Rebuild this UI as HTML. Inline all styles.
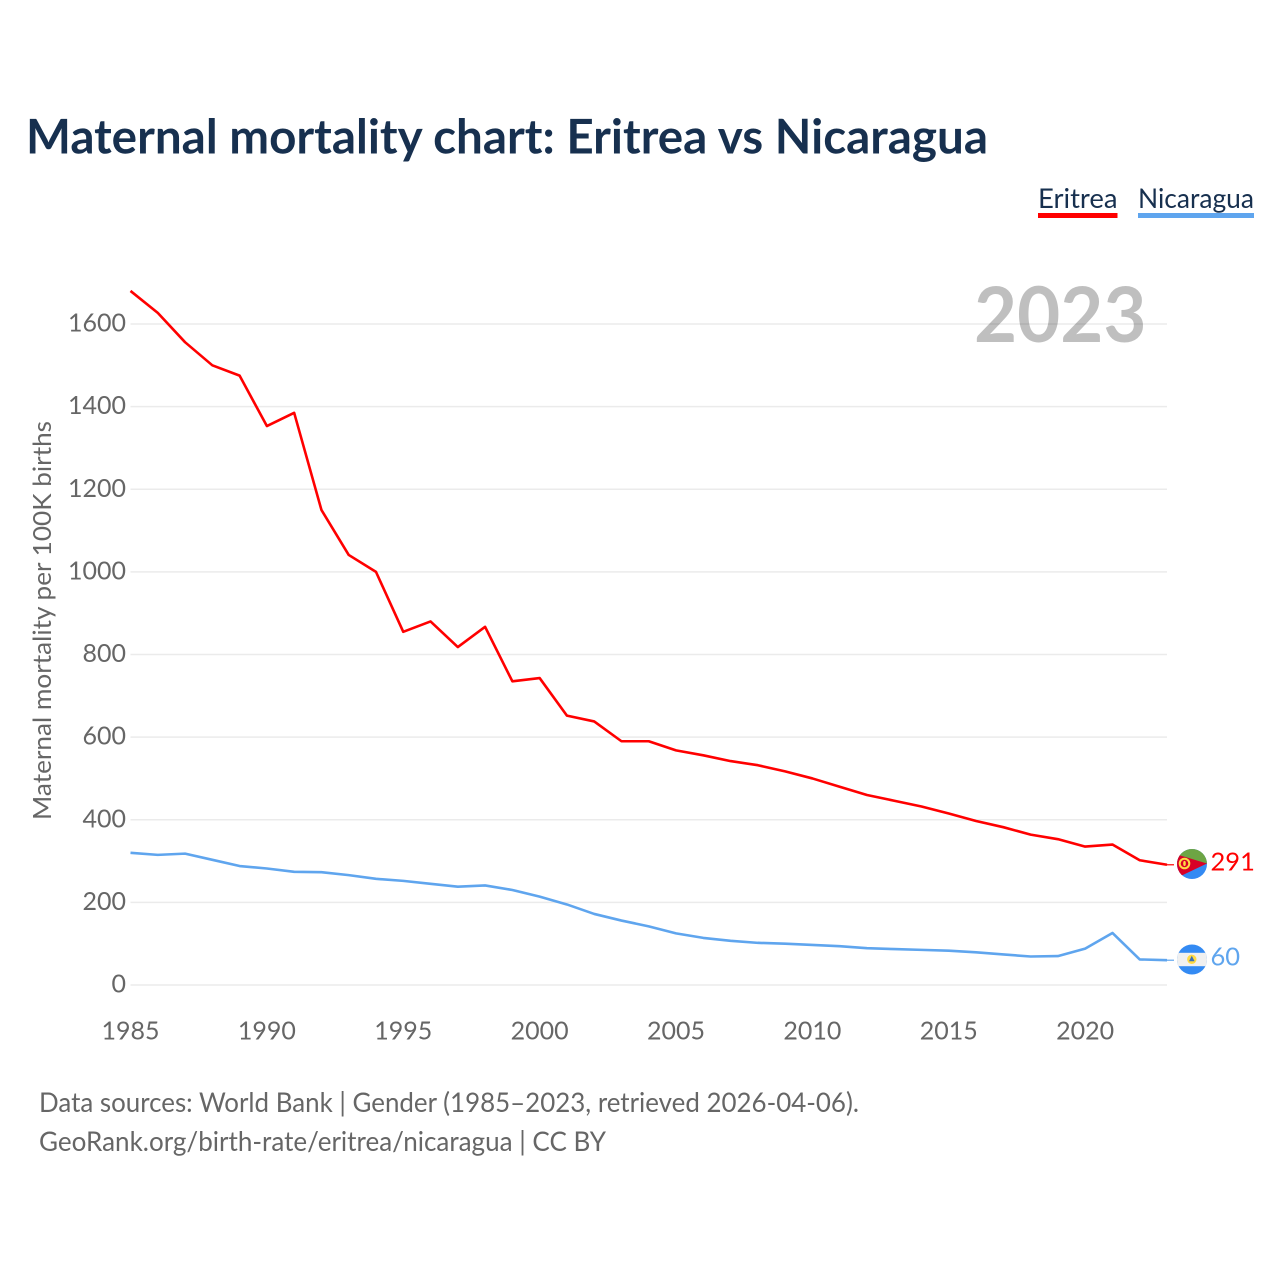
<!DOCTYPE html>
<html lang="en">
<head>
<meta charset="utf-8">
<title>Maternal mortality chart: Eritrea vs Nicaragua</title>
<style>
html,body{margin:0;padding:0;background:#fff;}
body{width:1280px;height:1280px;overflow:hidden;}
svg{display:block;font-family:"Lato","Carlito","Liberation Sans",sans-serif;}
</style>
</head>
<body>
<svg id="chart" xmlns="http://www.w3.org/2000/svg" width="1280" height="1280" viewBox="0 0 1280 1280">
<rect width="1280" height="1280" fill="#ffffff"/>
<text x="26" y="153.5" font-size="48" font-weight="700" fill="#17304f" textLength="962" lengthAdjust="spacingAndGlyphs">Maternal mortality chart: Eritrea vs Nicaragua</text>
<g>
<g>
<text x="1038" y="208" font-size="27" fill="#17304f" textLength="79.5" lengthAdjust="spacingAndGlyphs">Eritrea</text>
<rect x="1038" y="213" width="79.5" height="5" fill="#ff0000"/>
</g>
<g>
<text x="1138" y="208" font-size="27" fill="#17304f" textLength="116" lengthAdjust="spacingAndGlyphs">Nicaragua</text>
<rect x="1138" y="213" width="116" height="5" fill="#5fa5ee"/>
</g>
</g>
<g id="grid"></g>
<text x="1146.5" y="342" font-size="76.5" font-weight="700" fill="#000000" fill-opacity="0.25" text-anchor="end" textLength="172.5" lengthAdjust="spacingAndGlyphs">2023</text>
<g id="yticks"></g>
<g id="xticks"></g>
<text transform="translate(51,620.5) rotate(-90)" font-size="25" fill="#666666" text-anchor="middle" textLength="399" lengthAdjust="spacingAndGlyphs">Maternal mortality per 100K births</text>
<g id="series"></g>
<g id="ends"></g>

<defs>
<clipPath id="flag-clip-er"><circle cx="1192" cy="864" r="15"/></clipPath>
<clipPath id="flag-clip-ni"><circle cx="1192" cy="959.5" r="15"/></clipPath>
</defs>
<g clip-path="url(#flag-clip-er)">
<rect x="1177" y="849" width="30" height="30" fill="#338af3"/>
<polygon points="1175,849 1207,849 1207,863.5 1175,863.5" fill="#6da544"/>
<polygon points="1207,863.5 1170,852.4 1170,881" fill="#d80027"/>
<circle cx="1184.5" cy="863.5" r="4.8" fill="none" stroke="#ffda44" stroke-width="2"/>
<ellipse cx="1184.5" cy="863.5" rx="1.3" ry="2.6" fill="#ffda44"/>
</g>
<g clip-path="url(#flag-clip-ni)">
<rect x="1177" y="944" width="30" height="31" fill="#338af3"/>
<rect x="1177" y="952.8" width="30" height="13.4" fill="#f0f0f0"/>
<circle cx="1191.8" cy="959.3" r="4.7" fill="#ffda44"/>
<polygon points="1191.8,955.8 1194.6,961.3 1189,961.3" fill="#3a6fb5"/>
</g>

<g>
<text x="39" y="1112" font-size="27" fill="#666666" textLength="820" lengthAdjust="spacingAndGlyphs">Data sources: World Bank | Gender (1985–2023, retrieved 2026-04-06).</text>
<text x="39" y="1151" font-size="27" fill="#666666" textLength="567" lengthAdjust="spacingAndGlyphs">GeoRank.org/birth-rate/eritrea/nicaragua | CC BY</text>
</g>
</svg>
<script>
const years = [1985,1986,1987,1988,1989,1990,1991,1992,1993,1994,1995,1996,1997,1998,1999,2000,2001,2002,2003,2004,2005,2006,2007,2008,2009,2010,2011,2012,2013,2014,2015,2016,2017,2018,2019,2020,2021,2022,2023];
const eritrea = [1680,1627,1556,1500,1475,1353,1385,1150,1041,1000,855,880,818,867,735,743,652,638,590,590,568,556,542,532,517,500,480,460,446,432,415,397,382,364,353,335,340,302,291];
const nicaragua = [320,315,318,303,288,282,274,273,266,257,252,245,238,241,230,214,195,172,156,142,125,114,107,102,100,97,94,89,87,85,83,79,74,69,70,88,126,62,60];
const yTickValues = [0,200,400,600,800,1000,1200,1400,1600];
const xTickValues = [1985,1990,1995,2000,2005,2010,2015,2020];

const NS = 'http://www.w3.org/2000/svg';
const xScale = function (year) { return 130.5 + (year - 1985) * (1167 - 130.5) / 38; };
const yScale = function (value) { return 985 - value * (985 - 324) / 1600; };

function make(tag, parent, attrs, text) {
  const el = document.createElementNS(NS, tag);
  Object.keys(attrs).forEach(function (k) { el.setAttribute(k, attrs[k]); });
  if (text !== undefined) { el.textContent = text; }
  parent.appendChild(el);
  return el;
}

const grid = document.getElementById('grid');
const yticks = document.getElementById('yticks');
const xticks = document.getElementById('xticks');
const seriesGroup = document.getElementById('series');
const ends = document.getElementById('ends');

yTickValues.forEach(function (v) {
  const line = make('line', grid, {x1: 130.5, x2: 1167, y1: yScale(v), y2: yScale(v), stroke: '#ebebeb', 'stroke-width': 1.5});
  
  
  const label = make('text', yticks, {x: 126, y: yScale(v) + 7.5, 'font-size': 25, fill: '#666666', 'text-anchor': 'end'}, String(v));
  
  
});

xTickValues.forEach(function (y) {
  const label = make('text', xticks, {x: xScale(y), y: 1039.5, 'font-size': 25, fill: '#666666', 'text-anchor': 'middle'}, String(y));
  
  
});

function drawSeries(values, color, key, labelY) {
  const pts = values.map(function (v, i) { return xScale(years[i]).toFixed(2) + ',' + yScale(v).toFixed(2); }).join(' ');
  const line = make('polyline', seriesGroup, {points: pts, fill: 'none', stroke: color, 'stroke-width': 2.6, 'stroke-linejoin': 'round'});
  
  
  const last = values[values.length - 1];
  const lastX = xScale(years[years.length - 1]);
  const lastY = yScale(last);
  const connector = make('line', ends, {x1: lastX, y1: lastY, x2: 1174, y2: lastY, stroke: color, 'stroke-width': 1.2});
  
  
  const label = make('text', ends, {x: 1210.5, y: labelY, 'font-size': 25.5, fill: color}, String(last));
  
  
}

drawSeries(nicaragua, '#5fa5ee', 'nicaragua', 965.5);
drawSeries(eritrea, '#ff0000', 'eritrea', 870.7);
</script>
</body>
</html>
